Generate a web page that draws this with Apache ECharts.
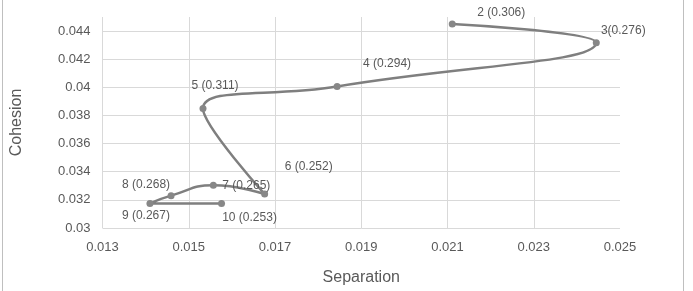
<!DOCTYPE html>
<html>
<head>
<meta charset="utf-8">
<script src="https://cdn.jsdelivr.net/npm/echarts@6/dist/echarts.min.js"></script>
<style>
  html, body { margin: 0; padding: 0; background: #fff; }
  #chart { width: 693px; height: 291px; }
</style>
</head>
<body>
<div id="chart"></div>
<script>
// points 2..10 (separation, cohesion, score)
var pointIds = ['2', '3', '4', '5', '6', '7', '8', '9', '10'];
var separation = [0.02111, 0.02445, 0.01844, 0.01533, 0.01676, 0.01557, 0.01459, 0.0141, 0.01576];
var cohesion = [0.0445, 0.04317, 0.04006, 0.03849, 0.03241, 0.03304, 0.0323, 0.03175, 0.03175];
var scores = ['0.306', '0.276', '0.294', '0.311', '0.252', '0.265', '0.268', '0.267', '0.253'];
// label placement around each marker
var labelOffsets = [[49, -11], [27, -12], [50, -23], [12, -23], [44, -27], [33, 0], [-25, -11], [-4, 12], [28, 14]];

var textColor = '#595959';
var gridColor = '#d9d9d9';

var seriesData = pointIds.map(function (id, i) {
  var sep = id === '3' ? '' : ' ';
  return {
    value: [separation[i], cohesion[i]],
    label: {
      show: true,
      position: 'inside',
      align: 'center',
      verticalAlign: 'middle',
      offset: labelOffsets[i],
      formatter: id + sep + '(' + scores[i] + ')'
    }
  };
});

var myChart = echarts.init(document.getElementById('chart'));
var option = {
  animation: false,
  grid: { left: 102.5, right: 73, top: 17, bottom: 60, containLabel: false },
  xAxis: {
    type: 'value',
    min: 0.013,
    max: 0.025,
    interval: 0.002,
    name: 'Separation',
    nameLocation: 'middle',
    nameGap: 42,
    nameTextStyle: { color: textColor, fontSize: 16, fontFamily: 'Liberation Sans' },
    axisLine: { show: false },
    axisTick: { show: false },
    axisLabel: { color: textColor, fontSize: 13, margin: 13, fontFamily: 'Liberation Sans' },
    splitLine: { show: true, showMaxLine: false, lineStyle: { color: gridColor, width: 1 } }
  },
  yAxis: {
    type: 'value',
    min: 0.03,
    max: 0.045,
    interval: 0.002,
    name: 'Cohesion',
    nameLocation: 'middle',
    nameGap: 78,
    nameTextStyle: { color: textColor, fontSize: 16, fontFamily: 'Liberation Sans' },
    axisLine: { show: false },
    axisTick: { show: false },
    axisLabel: { color: textColor, fontSize: 13, margin: 12, showMaxLabel: false, fontFamily: 'Liberation Sans' },
    splitLine: { show: true, showMaxLine: false, lineStyle: { color: gridColor, width: 1 } }
  },
  series: [{
    type: 'line',
    data: seriesData,
    smooth: 0.5,
    symbol: 'circle',
    symbolSize: 7,
    lineStyle: { color: '#7f7f7f', width: 2.5 },
    itemStyle: { color: '#878787' },
    label: { color: textColor, fontSize: 12, fontFamily: 'Liberation Sans' }
  }],
  graphic: [
    { type: 'line', shape: { x1: 2.5, y1: 0, x2: 2.5, y2: 291 }, style: { stroke: '#bfbfbf', lineWidth: 1 } },
    { type: 'line', shape: { x1: 683.5, y1: 0, x2: 683.5, y2: 291 }, style: { stroke: '#bfbfbf', lineWidth: 1 } }
  ]
};
myChart.setOption(option);
</script>
</body>
</html>
